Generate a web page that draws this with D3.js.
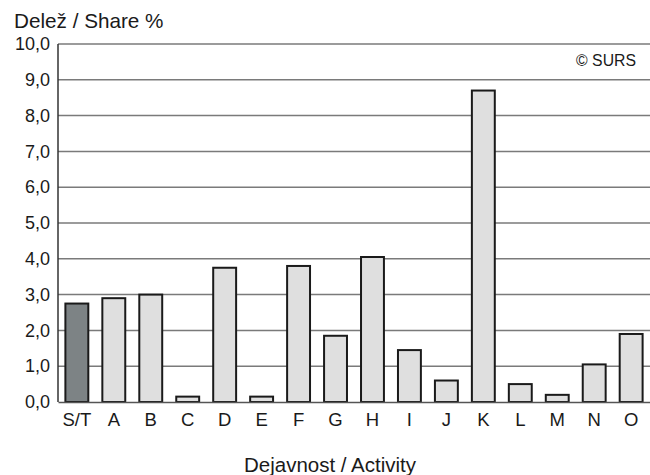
<!DOCTYPE html>
<html>
<head>
<meta charset="utf-8">
<script src="https://cdn.jsdelivr.net/npm/d3@7"></script>
<style>
  body { margin: 0; background: #fff; }
  text { font-family: "Liberation Sans", Arial, sans-serif; fill: #1a1a1a; }
</style>
</head>
<body>
<div id="chart"></div>
<script>
// categories and values
var categories = ["S/T", "A", "B", "C", "D", "E", "F", "G", "H", "I", "J", "K", "L", "M", "N", "O"];
var shares = [2.75, 2.9, 3.0, 0.15, 3.75, 0.15, 3.8, 1.85, 4.05, 1.45, 0.6, 8.7, 0.5, 0.2, 1.05, 1.9];
var yTicks = [0, 1, 2, 3, 4, 5, 6, 7, 8, 9, 10];

var svgWidth = 650;
var svgHeight = 475;

var margin = { top: 44, right: 0, bottom: 73, left: 58 };
var width = svgWidth - margin.left - margin.right;
var height = svgHeight - margin.top - margin.bottom;

var svg = d3.select("#chart")
  .append("svg")
  .attr("width", svgWidth)
  .attr("height", svgHeight);

var chartGroup = svg.append("g")
  .attr("transform", `translate(${margin.left}, ${margin.top})`);

var xScale = d3.scaleBand()
  .domain(categories)
  .range([0, width])
  .paddingInner(0.38)
  .paddingOuter(0.2);

var yScale = d3.scaleLinear()
  .domain([0, 10])
  .range([height, 0]);

// gridlines
chartGroup.selectAll(".grid")
  .data(yTicks.filter(d => d > 0))
  .enter()
  .append("line")
  .attr("x1", 0)
  .attr("x2", width)
  .attr("y1", d => yScale(d))
  .attr("y2", d => yScale(d))
  .attr("stroke", "#7a7a7a")
  .attr("stroke-width", 1.5);

// y axis labels
var leftAxis = d3.axisLeft(yScale)
  .tickValues(yTicks)
  .tickSize(0)
  .tickPadding(8)
  .tickFormat(d => d3.format(".1f")(d).replace(".", ","));

var yAxis = chartGroup.append("g").call(leftAxis);
yAxis.select(".domain").remove();
yAxis.selectAll("text")
  .attr("font-size", 18)
  .style("font-family", "'Liberation Sans', Arial, sans-serif")
  .attr("fill", "#1a1a1a");

// y axis line
chartGroup.append("line")
  .attr("x1", 0).attr("x2", 0)
  .attr("y1", 0).attr("y2", height)
  .attr("stroke", "#333")
  .attr("stroke-width", 1.5);

// bars
chartGroup.selectAll("rect")
  .data(shares)
  .enter()
  .append("rect")
  .attr("x", (d, i) => xScale(categories[i]))
  .attr("y", d => yScale(d))
  .attr("width", xScale.bandwidth())
  .attr("height", d => height - yScale(d))
  .attr("fill", (d, i) => i === 0 ? "#7d8385" : "#dfdfdf")
  .attr("stroke", "#1a1a1a")
  .attr("stroke-width", 2);

// x axis
var bottomAxis = d3.axisBottom(xScale).tickSize(0).tickPadding(11);
var xAxis = chartGroup.append("g")
  .attr("transform", `translate(0, ${height})`)
  .call(bottomAxis);
xAxis.select(".domain")
  .attr("stroke", "#555")
  .attr("stroke-width", 1.5);
xAxis.selectAll("text")
  .attr("font-size", 18.5)
  .style("font-family", "'Liberation Sans', Arial, sans-serif")
  .attr("fill", "#1a1a1a");

// titles
svg.append("text")
  .attr("x", 14)
  .attr("y", 28)
  .attr("font-size", 20.7)
  .text("Delež / Share %");

svg.append("text")
  .attr("x", 330)
  .attr("y", 472)
  .attr("text-anchor", "middle")
  .attr("font-size", 20.5)
  .text("Dejavnost / Activity");

svg.append("text")
  .attr("x", 636)
  .attr("y", 66)
  .attr("text-anchor", "end")
  .attr("font-size", 15.8)
  .text("© SURS");
</script>
</body>
</html>
